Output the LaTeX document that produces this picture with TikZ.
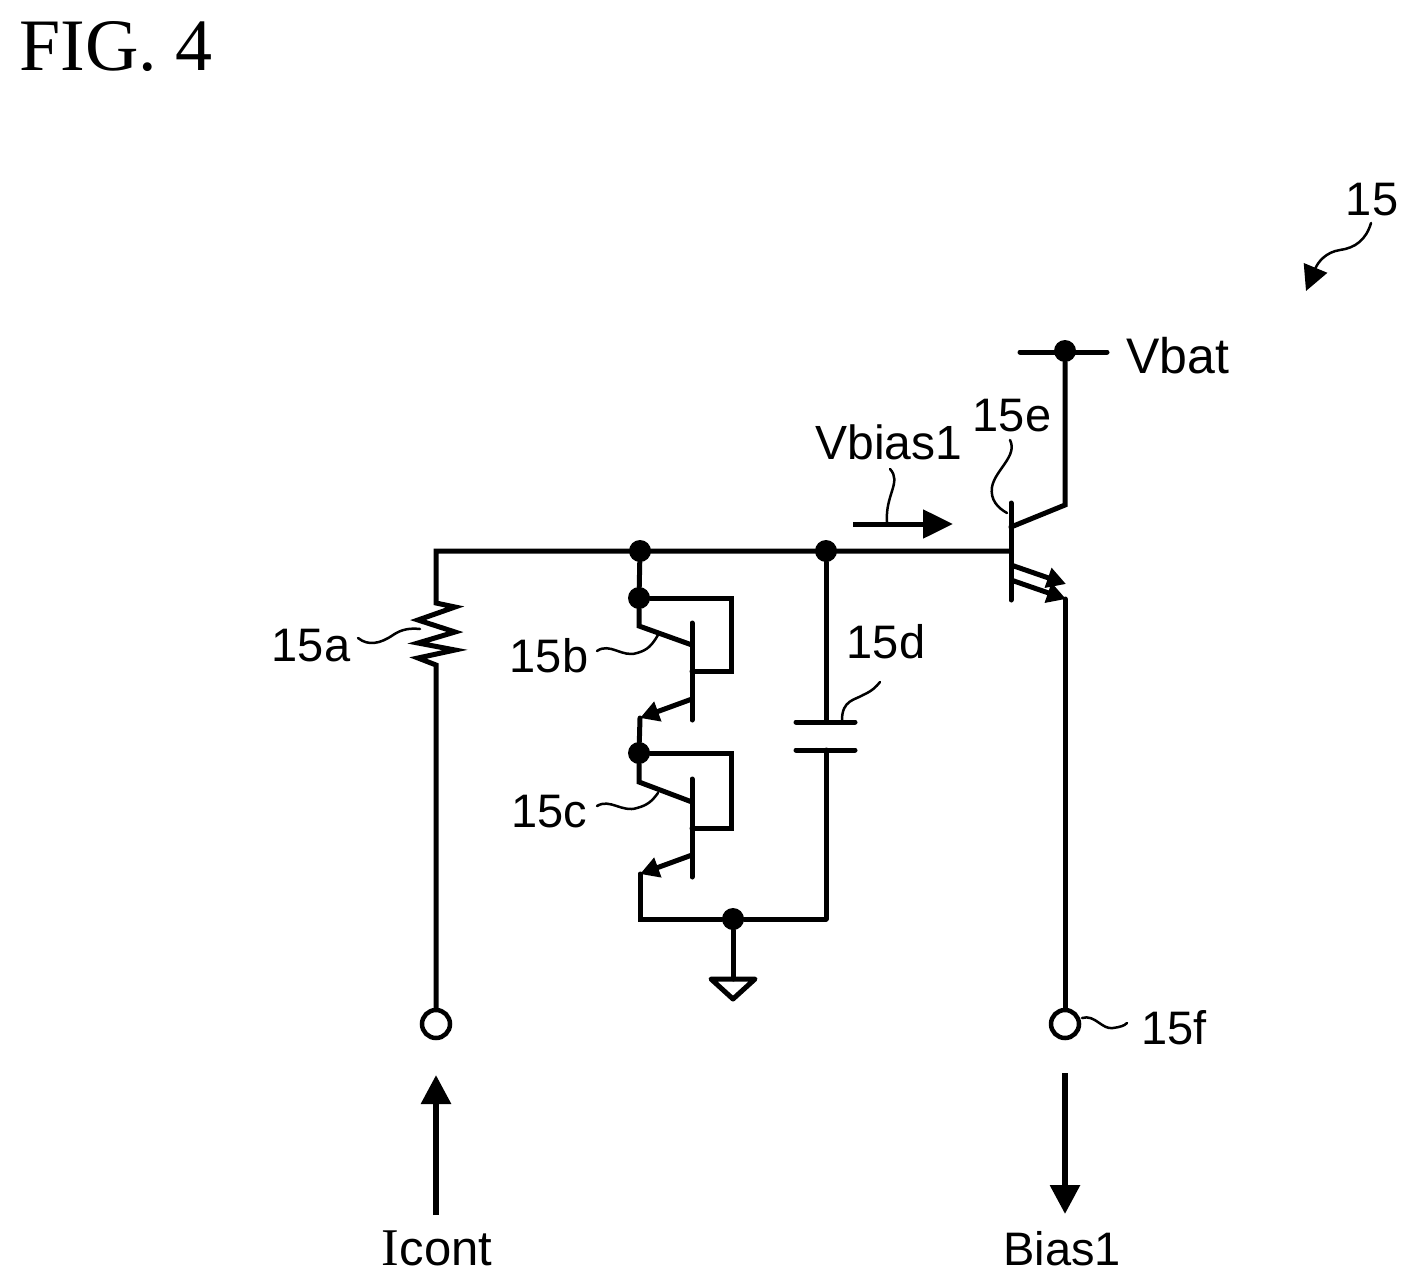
\documentclass[tikz,border=0pt]{standalone}
\usepackage{fontspec}
\setmainfont{Liberation Sans}
\newfontfamily\figfont{Liberation Serif}
\usetikzlibrary{arrows.meta}
\tikzset{
  wire/.style={line width=5pt,line cap=round,line join=miter},
  leader/.style={line width=2.5pt,line cap=round},
  dot/.style={circle,fill=black,draw=none,inner sep=0pt,minimum size=22pt},
  term/.style={circle,draw=black,line width=4.5pt,fill=white,inner sep=0pt,minimum size=28pt},
  lab/.style={anchor=base,inner sep=0pt,font=\fontsize{47}{47}\selectfont},
  biglab/.style={anchor=base,inner sep=0pt,font=\fontsize{48}{48}\selectfont},
  flow/.style={line width=6pt,-{Triangle[length=29pt,width=29pt]}},
  emit/.style={line width=5pt,-{Triangle[length=19pt,width=20pt]}},
}
\begin{document}
\begin{tikzpicture}[x=1pt,y=-1pt]
\useasboundingbox (0,0) rectangle (1418,1287);
% junctions and terminals
\node[dot] (j1) at (640,551) {};
\node[dot] (j2) at (826,551) {};
\node[dot] (j3) at (639,598) {};
\node[dot] (j4) at (639,753) {};
\node[dot] (j5) at (733,919) {};
\node[dot] (jv) at (1065,351) {};
\node[term] (ticont) at (436,1024) {};
\node[term] (tbias) at (1065,1024) {};
% named points
\coordinate (w0) at (436,551);
\coordinate (qb) at (1011,551);
\coordinate (r1) at (436,603);
\coordinate (r2) at (436,665);
% top wire and resistor
\draw[wire] (ticont) -- (r2)
  -- (418,658) -- (455,650) -- (418,643) -- (455,632) -- (418,620) -- (455,607)
  -- (r1) -- (w0) -- (qb);
% transistor 15b
\coordinate (b1) at (692,623); \coordinate (b2) at (692,720);
\draw[wire] (b1) -- (b2);
\draw[wire] (j1) -- (j3) -- (639,626) -- (692,645);
\draw[wire] (j3) -- (731,598) -- (731,671) -- (692,671);
\coordinate (be) at (640,718);
\draw[emit] (692,699) -- (be);
\draw[wire] (be) -- (j4);
% transistor 15c
\coordinate (c1) at (692,779); \coordinate (c2) at (692,877);
\draw[wire] (c1) -- (c2);
\draw[wire] (j4) -- (639,782) -- (692,802);
\draw[wire] (j4) -- (731,753) -- (731,828) -- (692,828);
\coordinate (ce) at (640,874);
\draw[emit] (692,855) -- (ce);
\draw[wire] (ce) -- (640,919) -- (j5) -- (826,919);
% capacitor
\coordinate (cp1) at (826,722); \coordinate (cp2) at (826,750);
\draw[wire] (j2) -- (cp1);
\draw[wire] (cp2) -- (826,919);
\draw[wire] (796,722) -- (855,722);
\draw[wire] (796,750) -- (855,750);
% ground
\coordinate (g) at (733,979);
\draw[wire] (j5) -- (g);
\draw[wire,line join=round] (711,979) -- (755,979) -- (733,999) -- cycle;
% main transistor 15e
\draw[wire] (1011,503) -- (1011,600);
\draw[wire] (1011,527) -- (1065,505) -- (jv);
\draw[wire] (1020,352) -- (1107,352);
\coordinate (e1) at (1066,584); \coordinate (e2) at (1066,599);
\draw[emit] (1011,565) -- (e1);
\draw[emit] (1011,580) -- (e2);
\draw[wire] (1065,599) -- (tbias);
% flow arrows
\coordinate (ia) at (436,1215); \coordinate (ib) at (436,1075);
\draw[flow] (ia) -- (ib);
\coordinate (oa) at (1065,1073); \coordinate (ob) at (1065,1214);
\draw[flow] (oa) -- (ob);
\coordinate (va) at (853,524); \coordinate (vb) at (953,524);
\draw[line width=5pt,-{Triangle[length=30pt,width=28pt]}] (va) -- (vb);
% leaders
\draw[leader] (358,638) .. controls (368,646) and (380,644) .. (393,635) .. controls (402,629) and (410,628) .. (420,629);
\draw[leader] (597,651) .. controls (610,642) and (622,658) .. (637,653) .. controls (648,650) and (652,645) .. (658,635);
\draw[leader] (597,806) .. controls (610,798) and (622,813) .. (637,808) .. controls (648,805) and (652,801) .. (658,793);
\draw[leader] (842,720) .. controls (842,700) and (855,700) .. (863,695) .. controls (872,691) and (876,687) .. (880,682);
\draw[leader] (1010,440) .. controls (1018,456) and (995,470) .. (992,487) .. controls (990,500) and (998,508) .. (1007,513);
\draw[leader] (1082,1018) .. controls (1095,1014) and (1102,1030) .. (1113,1028) .. controls (1120,1027) and (1124,1026) .. (1127,1023);
\draw[leader] (890,469) .. controls (902,482) and (885,495) .. (887,522);
\draw[leader,-{Triangle[length=25pt,width=25pt]}] (1371,223) .. controls (1366,240) and (1355,248) .. (1340,250) .. controls (1326,252) and (1318,262) .. (1306,291);
% labels
\node[anchor=base,inner sep=0pt,font=\figfont\fontsize{74}{74}\selectfont] (fig) at (116,71) {FIG. 4};
\node[lab] (l15) at (1372,215) {15};
\node[biglab,font=\fontsize{50}{50}\selectfont] (lvbat) at (1178,373) {Vbat};
\node[lab] (l15e) at (1012,431) {15e};
\node[biglab] (lvb) at (889,459) {Vbias1};
\node[lab] (l15d) at (886,658) {15d};
\node[lab] (l15a) at (311,661) {15a};
\node[lab] (l15b) at (549,672) {15b};
\node[lab] (l15c) at (549,827) {15c};
\node[lab] (l15f) at (1174,1044) {15f};
\node[biglab,font=\fontsize{49}{49}\selectfont] (licont) at (437,1265) {{\figfont\fontsize{53}{53}\selectfont I}cont};
\node[lab] (lbias) at (1062,1265) {Bias1};
\end{tikzpicture}
\end{document}
